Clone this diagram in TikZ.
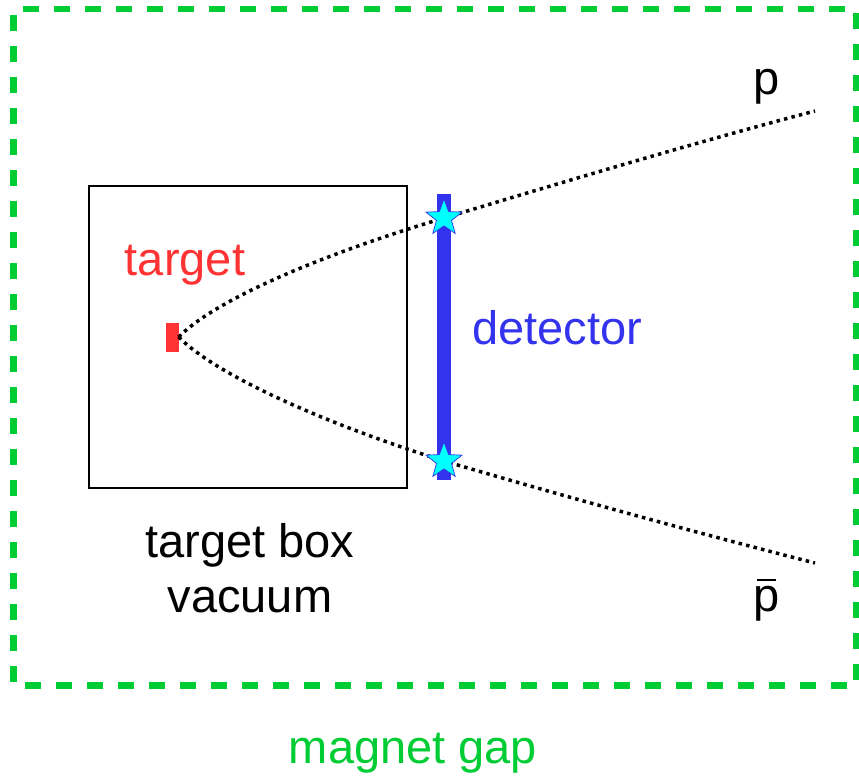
\documentclass[tikz,border=0pt]{standalone}
\usepackage{xcolor}
\usepackage{tikz}
\usetikzlibrary{shapes.geometric}
\usepackage{fontspec}
\setmainfont{Liberation Sans}
\definecolor{gapgreen}{HTML}{00CC33}
\definecolor{detblue}{HTML}{3333EE}
\definecolor{tgtred}{HTML}{FF3333}
\definecolor{hitcyan}{HTML}{00FFFF}

\tikzset{
  lbl/.style={font=\fontsize{47}{55}\selectfont,inner sep=0pt},
  track/.style={line width=3.5pt,dash pattern=on 3.5pt off 4.2pt},
  hit/.style={star,star points=5,star point ratio=2.4,minimum size=38pt,inner sep=0pt,fill=hitcyan,draw=detblue,line width=0.7pt}
}
\newcommand{\pbarsym}{\makebox[0pt][l]{\hspace{0.06em}\raisebox{0.64em}{\rule{0.4em}{0.055em}}}p}

\begin{document}
\begin{tikzpicture}[x=1pt,y=-1pt]
  \useasboundingbox (0,0) rectangle (859,779);
  \draw[gapgreen,line width=6.5pt,dash pattern=on 16pt off 15pt,dash phase=-6pt] (13.5,9) rectangle (856,685.5);
  \node[lbl,text=gapgreen] (gap) at (413,753) {magnet gap};
  \node[draw,line width=1.5pt,minimum width=318pt,minimum height=302pt,inner sep=0pt] (box) at (248,337) {};
  \node[lbl,align=center] (boxlbl) at (250,568) {target box\\vacuum};
  \node[fill=tgtred,minimum width=13pt,minimum height=29pt,inner sep=0pt] (tgt) at (172,337) {};
  \node[lbl,text=tgtred] (tgtlbl) at (185,265) {target};
  \node[fill=detblue,minimum width=14pt,minimum height=286pt,inner sep=0pt] (det) at (444,337) {};
  \node[lbl,text=detblue] (detlbl) at (557,328) {detector};
  \coordinate (hu) at (444,218);
  \coordinate (hd) at (444,461);
  \coordinate (pend) at (815,111);
  \coordinate (pbend) at (815,563);
  % tracks
  \draw[track] (tgt.east) .. controls (215,300) and (320,255) .. (hu)
    .. controls (570,180) and (690,144) .. (pend);
  \draw[track] (tgt.east) .. controls (215,374) and (320,422) .. (hd)
    .. controls (570,498) and (690,531) .. (pbend);
  \node[hit] (hitup) at (hu) {};
  \node[hit] (hitdown) at (hd) {};
  \node[lbl] (plbl) at (767,87) {p};
  \node[lbl] (pbarlbl) at (767,600) {\pbarsym};
\end{tikzpicture}
\end{document}
